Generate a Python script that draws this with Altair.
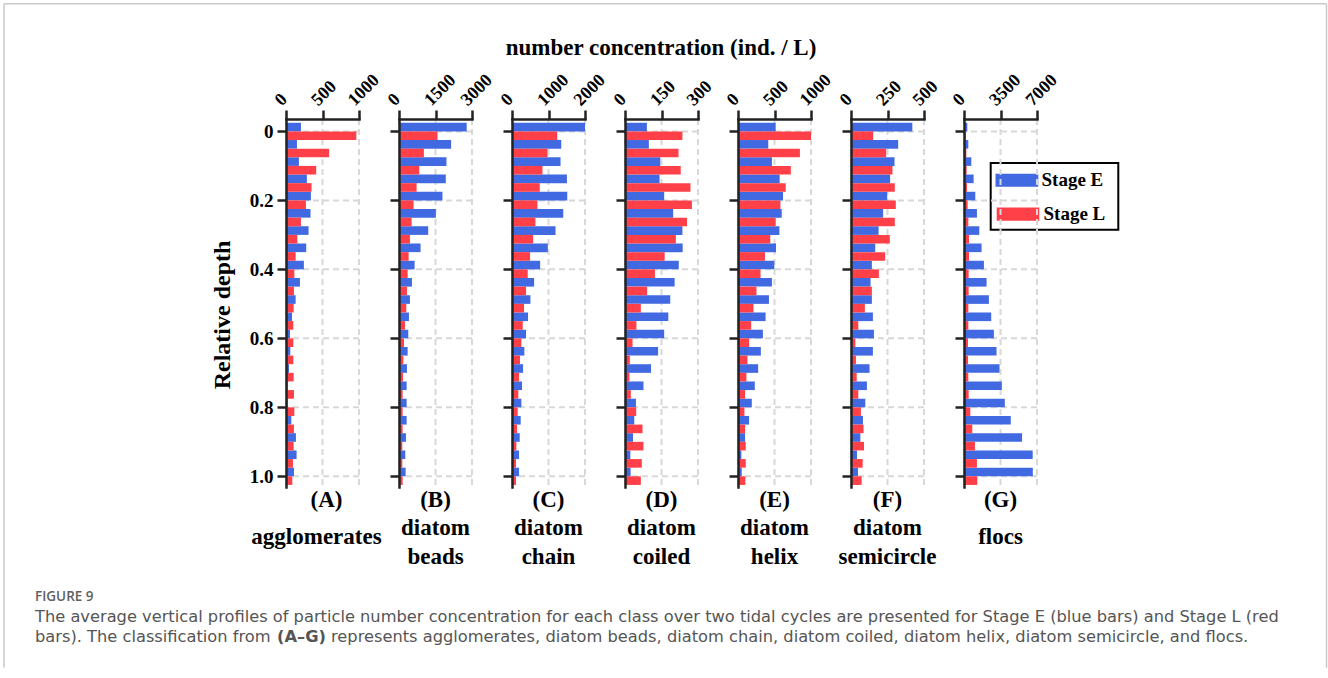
import altair as alt
import pandas as pd

# Relative depth levels (0 = surface, 1 = bottom)
DEPTHS = [0.0, 0.05, 0.1, 0.15, 0.2, 0.25, 0.3, 0.35, 0.4, 0.45, 0.5,
          0.55, 0.6, 0.65, 0.7, 0.75, 0.8, 0.85, 0.9, 0.95, 1.0]
DEPTH_TICKS = [0, 0.2, 0.4, 0.6, 0.8, 1.0]

LETTERS = ["(A)", "(B)", "(C)", "(D)", "(E)", "(F)", "(G)"]
NAMES = [["agglomerates"], ["diatom", "beads"], ["diatom", "chain"],
         ["diatom", "coiled"], ["diatom", "helix"], ["diatom", "semicircle"],
         ["flocs"]]
X_TICKS = [[0, 500, 1000], [0, 1500, 3000], [0, 1000, 2000], [0, 150, 300],
           [0, 500, 1000], [0, 250, 500], [0, 3500, 7000]]

# number concentration (ind. / L), one list per class, surface to bottom
STAGE_E = [
    [205, 150, 177, 286, 341, 336, 309, 277, 245, 191, 132, 82, 55, 59, 41, 23, 23, 73, 136, 145, 109],
    [2782, 2141, 1950, 1923, 1786, 1514, 1200, 886, 641, 532, 450, 409, 382, 355, 327, 314, 314, 314, 286, 259, 273],
    [2000, 1349, 1330, 1505, 1514, 1404, 1193, 982, 771, 606, 505, 440, 385, 339, 303, 275, 257, 238, 211, 193, 193],
    [90, 98, 145, 142, 161, 198, 236, 237, 221, 204, 186, 178, 161, 136, 107, 76, 45, 38, 33, 22, 23],
    [516, 415, 465, 571, 617, 599, 567, 521, 498, 465, 424, 378, 341, 313, 276, 230, 189, 152, 97, 46, 51],
    [420, 323, 298, 268, 248, 220, 189, 166, 143, 134, 143, 150, 157, 150, 127, 109, 98, 82, 64, 41, 48],
    [318, 414, 700, 923, 1082, 1241, 1464, 1686, 1909, 2164, 2386, 2609, 2864, 3118, 3405, 3627, 3914, 4486, 5568, 6586, 6600],
]
STAGE_L = [
    [964, 591, 414, 350, 273, 205, 155, 132, 114, 109, 105, 100, 100, 100, 105, 109, 114, 109, 105, 95, 86],
    [1582, 1023, 832, 723, 600, 518, 450, 395, 355, 327, 300, 245, 205, 177, 164, 150, 150, 150, 136, 136, 150],
    [1239, 972, 835, 761, 697, 642, 578, 495, 431, 385, 330, 294, 257, 220, 193, 174, 156, 138, 119, 110, 110],
    [236, 220, 229, 269, 275, 255, 209, 163, 123, 91, 65, 47, 31, 20, 18, 24, 46, 72, 76, 69, 65],
    [1000, 848, 724, 654, 581, 516, 442, 369, 309, 253, 212, 180, 152, 129, 115, 97, 88, 97, 106, 106, 101],
    [152, 241, 284, 300, 307, 300, 266, 234, 191, 143, 95, 50, 30, 34, 39, 50, 68, 86, 89, 80, 73],
    [159, 223, 255, 286, 350, 414, 477, 477, 445, 445, 414, 414, 382, 382, 414, 445, 605, 795, 1050, 1241, 1273],
]
STAGES = ["Stage E", "Stage L"]

TITLE = "number concentration (ind. / L)"
Y_TITLE = "Relative depth"
CAPTION_HEAD = "FIGURE 9"
CAPTION_1 = ("The average vertical profiles of particle number concentration for each class over "
             "two tidal cycles are presented for Stage E (blue bars) and Stage L (red")
CAPTION_2A = "bars). The classification from"
CAPTION_2B = "(A\u2013G)"
CAPTION_2C = ("represents agglomerates, diatom beads, diatom chain, diatom coiled, diatom helix, "
              "diatom semicircle, and flocs.")

BLUE = "#4169e1"
RED = "#ff4048"
INK = "#222222"
GRID = "#d8d8d8"
SERIF = "Liberation Serif"
SANS = "DejaVu Sans"
W, H = 73, 368
Y_DOMAIN = [-0.036, 1.031]
ONE = pd.DataFrame({"_": [0]})


def label(text, x, y, size, font=SERIF, weight="bold", color="black", **kw):
    return alt.Chart(pd.DataFrame({"t": [text]})).mark_text(
        font=font, fontSize=size, fontWeight=weight, color=color, **kw
    ).encode(text="t:N", x=alt.value(x), y=alt.value(y))


def rule(x, y, x2=None, y2=None):
    enc = {"x": alt.value(x), "y": alt.value(y)}
    if x2 is not None:
        enc["x2"] = alt.value(x2)
    if y2 is not None:
        enc["y2"] = alt.value(y2)
    return alt.Chart(ONE).mark_rule(color="#c9c9c9", strokeWidth=1.5).encode(**enc)


def panel(k):
    first = k == 0
    xt = X_TICKS[k]
    df = pd.DataFrame({
        "depth": DEPTHS + DEPTHS,
        "value": STAGE_E[k] + STAGE_L[k],
        "stage": [STAGES[0]] * len(DEPTHS) + [STAGES[1]] * len(DEPTHS),
    })
    xscale = alt.Scale(domain=[xt[0], xt[-1]], nice=False, zero=True)
    yscale = alt.Scale(domain=Y_DOMAIN, reverse=True, nice=False, zero=False)
    xaxis = alt.Axis(
        orient="top", values=xt, title=None, grid=False, zindex=1, format="d",
        labelAngle=-45, labelAlign="left", labelBaseline="bottom",
        labelPadding=1, labelOffset=-2, labelFont=SERIF, labelFontSize=18,
        labelFontWeight="bold", labelColor="black", labelOverlap=False,
        labelFlush=False, domainColor=INK, domainWidth=2.5,
        domainCap="square", tickColor=INK, tickWidth=2.5, tickSize=9)
    yaxis = alt.Axis(
        values=DEPTH_TICKS, title=None, grid=False, zindex=1,
        labels=first,
        labelExpr="datum.value == 0 ? '0' : format(datum.value, '.1f')",
        labelPadding=4, labelFont=SERIF, labelFontSize=19,
        labelFontWeight="bold", labelColor="black", labelOverlap=False,
        domainColor=INK, domainWidth=2.5, domainCap="square",
        tickColor=INK, tickWidth=2.5, tickSize=9)

    # dashed grid lines drawn beneath the bars
    vgrid = alt.Chart(pd.DataFrame({"base": xt})).mark_rule(
        color=GRID, strokeWidth=2, strokeDash=[6, 4]
    ).encode(x=alt.X("base:Q", scale=xscale, axis=xaxis))
    hgrid = alt.Chart(pd.DataFrame({"top": DEPTH_TICKS})).mark_rule(
        color=GRID, strokeWidth=2, strokeDash=[6, 4]
    ).encode(y=alt.Y("top:Q", scale=yscale, axis=yaxis))

    bars = alt.Chart(df).transform_calculate(
        top="datum.stage === 'Stage E' ? datum.depth - 0.025 : datum.depth",
        bottom="datum.stage === 'Stage E' ? datum.depth : datum.depth + 0.025",
        base="0",
    ).mark_rect().encode(
        x=alt.X("base:Q", scale=xscale, axis=xaxis),
        x2="value:Q",
        y=alt.Y("top:Q", scale=yscale, axis=yaxis),
        y2="bottom:Q",
        color=alt.Color("stage:N", scale=alt.Scale(domain=STAGES, range=[BLUE, RED]),
                        legend=None),
    )

    layers = [vgrid, hgrid, bars]
    cx = W / 2
    layers.append(label(LETTERS[k], cx + (4 if first else 0), 381, 23, baseline="middle"))
    name = NAMES[k]
    if len(name) == 1:
        layers.append(label(name[0], cx - (6 if first else 0), 418, 23, baseline="middle"))
    else:
        layers.append(label(name[0], cx, 409, 23, baseline="middle"))
        layers.append(label(name[1], cx, 438, 23, baseline="middle"))

    if first:
        # figure frame
        layers += [
            rule(-282, -115.3, x2=1040.5),
            rule(-282, -115.3, y2=548.7),
            rule(1040.5, -115.3, y2=548.7),
        ]
        # overall titles
        layers.append(label(TITLE, 375, -64, 23, baseline="alphabetic"))
        layers.append(label(Y_TITLE, -63, 196, 24, angle=270, baseline="middle"))
        # legend
        layers.append(alt.Chart(ONE).mark_rect(
            fill="white", fillOpacity=0, stroke="black", strokeWidth=2
        ).encode(x=alt.value(704.7), x2=alt.value(832.3), y=alt.value(44), y2=alt.value(110.7)))
        sw = {STAGES[0]: (709.5, 752.3, 54.7, 67.7, 755.5),
              STAGES[1]: (710.7, 753.3, 88.5, 101.7, 757.5)}
        for s, col in zip(STAGES, [BLUE, RED]):
            x0, x1, y0, y1, tx = sw[s]
            layers.append(alt.Chart(ONE).mark_rect(color=col).encode(
                x=alt.value(x0), x2=alt.value(x1), y=alt.value(y0), y2=alt.value(y1)))
            layers.append(label(s, tx, (y0 + y1) / 2, 19, align="left", baseline="middle"))
        # caption
        layers.append(label(CAPTION_HEAD, -251, 481.7, 13.5, font="Open Sans", weight=600,
                            color="#606060", align="left", baseline="alphabetic"))
        for txt, x, y, wt in [(CAPTION_1, -251, 503.4, "normal"),
                              (CAPTION_2A, -251, 523.4, "normal"),
                              (CAPTION_2B, -9, 523.4, "bold"),
                              (CAPTION_2C, 45, 523.4, "normal")]:
            layers.append(label(txt, x, y, 16.25, font=SANS, weight=wt, color="#555555",
                                align="left", baseline="alphabetic"))

    return alt.layer(*layers).properties(width=W, height=H)


chart = alt.hconcat(*[panel(k) for k in range(7)], spacing=40, bounds="flush").properties(
    padding={"left": 3, "top": 2, "right": 0, "bottom": 0}
).configure_view(stroke=None)

chart.save("out.html", embed_options={"renderer": "svg", "actions": False})
